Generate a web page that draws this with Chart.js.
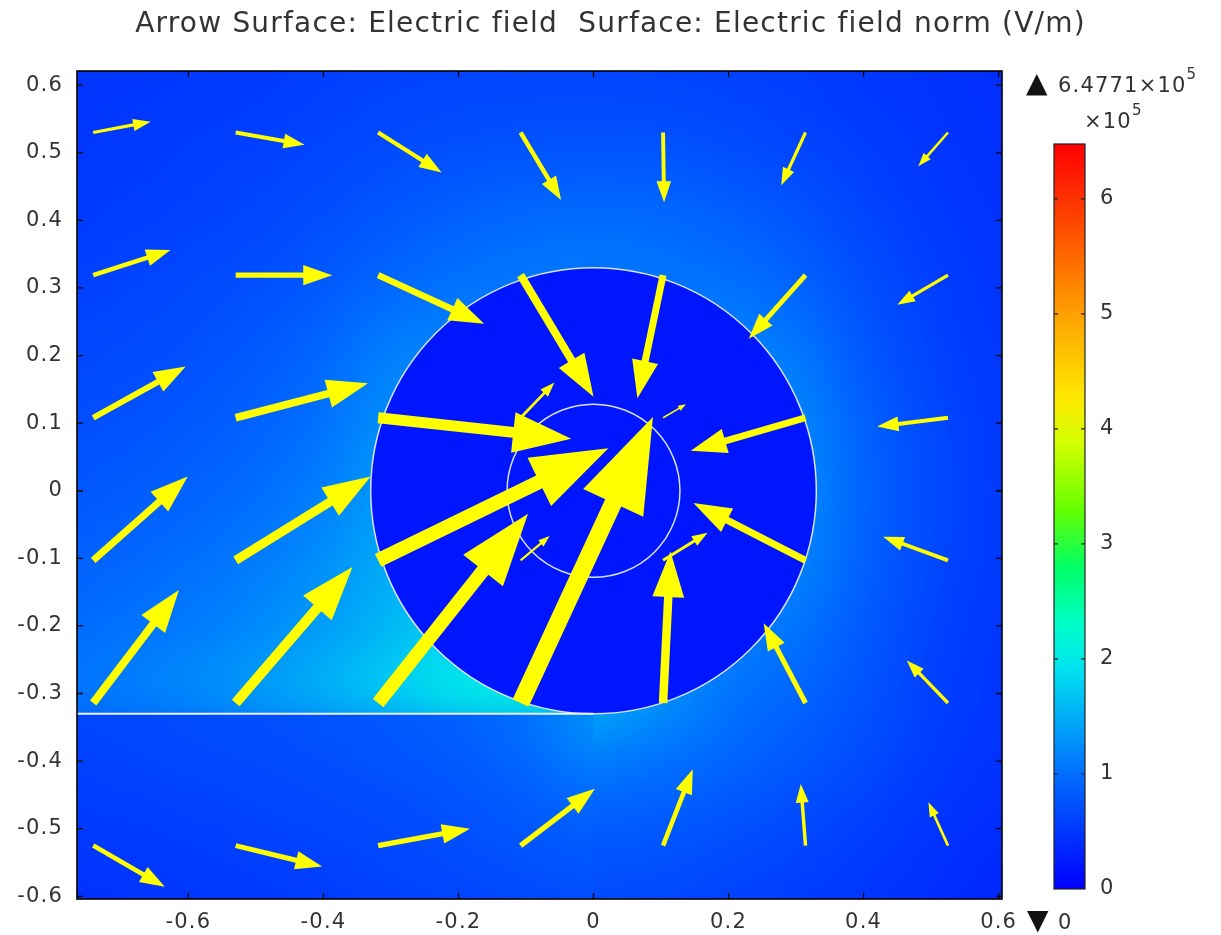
<!DOCTYPE html>
<html><head><meta charset="utf-8">
<script src="https://cdn.jsdelivr.net/npm/chart.js@4.4.1/dist/chart.umd.min.js"></script>
<style>html,body{margin:0;padding:0;background:#fff;}canvas{display:block;}</style>
</head><body>
<canvas id="c" width="1221" height="935"></canvas>
<script>
// ---------------- data ----------------
const titleText = 'Arrow Surface: Electric field  Surface: Electric field norm (V/m)';
const xTickValues = [-0.6, -0.4, -0.2, 0, 0.2, 0.4, 0.6];
const yTickValues = [-0.6, -0.5, -0.4, -0.3, -0.2, -0.1, 0, 0.1, 0.2, 0.3, 0.4, 0.5, 0.6];

// arrow grid (tail positions)
const gridX = [-0.741, -0.530, -0.319, -0.108, 0.103, 0.314, 0.525];
const gridY = [0.530, 0.319, 0.108, -0.103, -0.314, -0.525];
// arrow components (x, y), one row per gridY value
const arrowU = [
  [0.085, 0.102, 0.094, 0.060, 0.0015, -0.036, -0.044],
  [0.1145, 0.143, 0.157, 0.108, -0.038, -0.084, -0.075],
  [0.137, 0.196, 0.286, 0.050, 0.034, -0.170, -0.105],
  [0.140, 0.200, 0.341, 0.043, 0.066, -0.166, -0.096],
  [0.127, 0.173, 0.222, 0.196, 0.011, -0.062, -0.061],
  [0.106, 0.128, 0.136, 0.110, 0.044, -0.007, -0.029]
];
const arrowV = [
  [0.016, -0.018, -0.059, -0.100, -0.103, -0.078, -0.050],
  [0.037, 0.000, -0.072, -0.180, -0.182, -0.094, -0.044],
  [0.076, 0.051, -0.031, 0.052, 0.020, -0.049, -0.013],
  [0.124, 0.124, 0.166, 0.036, 0.041, 0.085, 0.035],
  [0.167, 0.201, 0.280, 0.423, 0.224, 0.118, 0.063],
  [-0.061, -0.031, 0.025, 0.084, 0.113, 0.091, 0.064]
];

// electric field norm (x 1e5 V/m), estimated on a coarse grid
const fieldX = [-0.8, -0.7, -0.6, -0.5, -0.4, -0.3, -0.2, -0.1, 0, 0.1, 0.2, 0.3, 0.4, 0.5, 0.6];
const fieldY = [0.7, 0.6, 0.5, 0.4, 0.3, 0.2, 0.1, 0, -0.1, -0.2, -0.3, -0.4, -0.5, -0.6, -0.7];
const fieldNorm = [
  [0.46, 0.47, 0.49, 0.52, 0.54, 0.56, 0.58, 0.59, 0.59, 0.58, 0.55, 0.51, 0.47, 0.43, 0.40],
  [0.48, 0.49, 0.51, 0.54, 0.57, 0.61, 0.63, 0.64, 0.64, 0.63, 0.60, 0.56, 0.50, 0.46, 0.42],
  [0.50, 0.52, 0.55, 0.58, 0.63, 0.68, 0.73, 0.76, 0.77, 0.76, 0.71, 0.64, 0.56, 0.49, 0.44],
  [0.53, 0.56, 0.59, 0.64, 0.71, 0.80, 0.89, 0.95, 0.98, 0.95, 0.88, 0.77, 0.63, 0.53, 0.46],
  [0.58, 0.61, 0.66, 0.72, 0.82, 0.95, 1.04, 1.08, 1.08, 1.06, 1.02, 0.92, 0.72, 0.57, 0.48],
  [0.63, 0.67, 0.72, 0.81, 0.94, 1.14, 1.18, 1.18, 1.18, 1.18, 1.18, 1.08, 0.80, 0.61, 0.50],
  [0.70, 0.74, 0.80, 0.89, 1.03, 1.26, 1.28, 1.22, 1.22, 1.22, 1.22, 1.18, 0.88, 0.65, 0.52],
  [0.77, 0.82, 0.89, 0.98, 1.13, 1.36, 1.34, 1.22, 1.22, 1.22, 1.22, 1.22, 0.91, 0.67, 0.53],
  [0.86, 0.92, 1.00, 1.10, 1.25, 1.46, 1.44, 1.32, 1.22, 1.22, 1.22, 1.17, 0.88, 0.65, 0.52],
  [0.95, 1.02, 1.10, 1.21, 1.37, 1.58, 1.74, 1.52, 1.30, 1.20, 1.15, 1.05, 0.82, 0.61, 0.50],
  [1.03, 1.10, 1.20, 1.34, 1.50, 1.72, 1.95, 2.02, 1.50, 1.28, 1.05, 0.92, 0.75, 0.58, 0.48],
  [0.70, 0.72, 0.75, 0.80, 0.86, 0.93, 1.00, 1.05, 1.10, 1.02, 0.92, 0.80, 0.67, 0.54, 0.45],
  [0.55, 0.57, 0.60, 0.64, 0.68, 0.72, 0.76, 0.80, 0.83, 0.80, 0.73, 0.65, 0.56, 0.47, 0.40],
  [0.45, 0.47, 0.50, 0.53, 0.56, 0.60, 0.63, 0.66, 0.68, 0.66, 0.61, 0.55, 0.49, 0.42, 0.36],
  [0.40, 0.42, 0.44, 0.47, 0.50, 0.53, 0.56, 0.58, 0.60, 0.58, 0.54, 0.49, 0.44, 0.38, 0.33]
];
// region below the boundary line (x < 0, y < -0.33)
const lowerX = [-0.8, -0.7, -0.6, -0.5, -0.4, -0.3, -0.2, -0.1, 0];
const lowerY = [-0.35, -0.45, -0.55, -0.65];
const lowerNorm = [
  [0.62, 0.64, 0.67, 0.70, 0.74, 0.79, 0.86, 1.00, 1.25],
  [0.55, 0.57, 0.60, 0.63, 0.66, 0.70, 0.76, 0.85, 0.97],
  [0.48, 0.50, 0.53, 0.56, 0.59, 0.63, 0.67, 0.73, 0.77],
  [0.42, 0.44, 0.47, 0.50, 0.53, 0.56, 0.60, 0.64, 0.65]
];
const insideNorm = 0.2;
const outerRadius = 0.33;
const innerRadius = 0.128;
const boundaryY = -0.33;

const colorbarMax = 6.4771;
const colorbarTicks = [0, 1, 2, 3, 4, 5, 6];

// ---------------- colormap (Rainbow) ----------------
const cmapStops = [
  [0.0, [0, 0, 255]], [1.0, [0, 110, 255]], [1.9, [0, 225, 240]], [2.3, [0, 255, 200]],
  [2.8, [0, 255, 100]], [3.3, [100, 255, 0]], [3.9, [215, 255, 0]], [4.3, [255, 230, 0]],
  [5.0, [255, 160, 0]], [5.8, [255, 70, 0]], [6.4771, [255, 0, 0]]
];
function colorFor(v) {
  if (v <= cmapStops[0][0]) return cmapStops[0][1];
  for (let i = 1; i < cmapStops.length; i++) {
    if (v <= cmapStops[i][0]) {
      const [a, ca] = cmapStops[i - 1], [b, cb] = cmapStops[i];
      const t = (v - a) / (b - a);
      return ca.map((c, k) => Math.round(c + (cb[k] - c) * t));
    }
  }
  return cmapStops[cmapStops.length - 1][1];
}
const rgb = c => `rgb(${c[0]},${c[1]},${c[2]})`;

function gridImage(xs, ys, vals) {
  const c = document.createElement('canvas');
  c.width = xs.length; c.height = ys.length;
  const g = c.getContext('2d');
  const img = g.createImageData(xs.length, ys.length);
  for (let j = 0; j < ys.length; j++) for (let i = 0; i < xs.length; i++) {
    const col = colorFor(vals[j][i]); const k = (j * xs.length + i) * 4;
    img.data[k] = col[0]; img.data[k + 1] = col[1]; img.data[k + 2] = col[2]; img.data[k + 3] = 255;
  }
  g.putImageData(img, 0, 0);
  return c;
}
function drawGrid(ctx, sx, sy, xs, ys, vals) {
  const c = gridImage(xs, ys, vals);
  const dx = xs[1] - xs[0], dy = ys[0] - ys[1];
  const L = sx.getPixelForValue(xs[0] - dx / 2), R = sx.getPixelForValue(xs[xs.length - 1] + dx / 2);
  const T = sy.getPixelForValue(ys[0] + dy / 2), B = sy.getPixelForValue(ys[ys.length - 1] - dy / 2);
  ctx.imageSmoothingEnabled = true; ctx.imageSmoothingQuality = 'high';
  ctx.drawImage(c, L, T, R - L, B - T);
}

const fieldPlugin = {
  id: 'field',
  beforeDraw(chart) {
    const ctx = chart.ctx, a = chart.chartArea, sx = chart.scales.x, sy = chart.scales.y;
    ctx.letterSpacing = '1.2px';
    ctx.save();
    ctx.beginPath(); ctx.rect(a.left, a.top, a.right - a.left, a.bottom - a.top); ctx.clip();
    drawGrid(ctx, sx, sy, fieldX, fieldY, fieldNorm);
    ctx.save();
    const by = sy.getPixelForValue(boundaryY), bx = sx.getPixelForValue(0);
    ctx.beginPath(); ctx.rect(a.left, by, bx - a.left, a.bottom - by); ctx.clip();
    drawGrid(ctx, sx, sy, lowerX, lowerY, lowerNorm);
    ctx.restore();
    const cx = sx.getPixelForValue(0), cy = sy.getPixelForValue(0);
    const rx = sx.getPixelForValue(outerRadius) - cx, ry = cy - sy.getPixelForValue(outerRadius);
    ctx.fillStyle = rgb(colorFor(insideNorm));
    ctx.beginPath(); ctx.ellipse(cx, cy, rx, ry, 0, 0, Math.PI * 2); ctx.fill();
    ctx.strokeStyle = 'rgba(225,235,255,0.95)'; ctx.lineWidth = 1.5;
    ctx.stroke();
    const irx = sx.getPixelForValue(innerRadius) - cx, iry = cy - sy.getPixelForValue(innerRadius);
    ctx.beginPath(); ctx.ellipse(cx, cy, irx, iry, 0, 0, Math.PI * 2); ctx.stroke();
    ctx.strokeStyle = 'rgba(235,242,255,1)'; ctx.lineWidth = 2;
    ctx.beginPath(); ctx.moveTo(a.left, by); ctx.lineTo(bx, by); ctx.stroke();
    ctx.restore();
  },
  afterDatasetsDraw(chart) {
    const ctx = chart.ctx, a = chart.chartArea, sx = chart.scales.x, sy = chart.scales.y;
    ctx.save();
    ctx.beginPath(); ctx.rect(a.left, a.top, a.right - a.left, a.bottom - a.top); ctx.clip();
    ctx.fillStyle = '#ffff00';
    for (let j = 0; j < gridY.length; j++) for (let i = 0; i < gridX.length; i++) {
      const x0 = sx.getPixelForValue(gridX[i]), y0 = sy.getPixelForValue(gridY[j]);
      const x1 = sx.getPixelForValue(gridX[i] + arrowU[j][i]), y1 = sy.getPixelForValue(gridY[j] + arrowV[j][i]);
      const dx = x1 - x0, dy = y1 - y0, L = Math.hypot(dx, dy);
      if (L < 0.5) continue;
      const ux = dx / L, uy = dy / L, px = -uy, py = ux;
      const sw = Math.max(0.7, 0.028 * L), hl = 0.3 * L, hw = 0.105 * L;
      const bxp = x1 - ux * hl, byp = y1 - uy * hl;
      ctx.beginPath();
      ctx.moveTo(x0 + px * sw, y0 + py * sw);
      ctx.lineTo(bxp + px * sw, byp + py * sw);
      ctx.lineTo(bxp + px * hw, byp + py * hw);
      ctx.lineTo(x1, y1);
      ctx.lineTo(bxp - px * hw, byp - py * hw);
      ctx.lineTo(bxp - px * sw, byp - py * sw);
      ctx.lineTo(x0 - px * sw, y0 - py * sw);
      ctx.closePath(); ctx.fill();
    }
    ctx.restore();
  },
  afterDraw(chart) {
    const ctx = chart.ctx, a = chart.chartArea, sx = chart.scales.x, sy = chart.scales.y;
    ctx.save();
    ctx.strokeStyle = '#000'; ctx.lineWidth = 1.6;
    ctx.strokeRect(a.left, a.top, a.right - a.left, a.bottom - a.top);
    ctx.lineWidth = 1.3;
    ctx.beginPath();
    sx.ticks.forEach(t => {
      const x = sx.getPixelForValue(t.value);
      ctx.moveTo(x, a.bottom); ctx.lineTo(x, a.bottom - 6);
      ctx.moveTo(x, a.top); ctx.lineTo(x, a.top + 6);
    });
    sy.ticks.forEach(t => {
      const y = sy.getPixelForValue(t.value);
      ctx.moveTo(a.left, y); ctx.lineTo(a.left + 6, y);
      ctx.moveTo(a.right, y); ctx.lineTo(a.right - 6, y);
    });
    ctx.stroke();

    // colour bar
    const cbL = 1054, cbR = 1085, cbT = 144, cbB = 889;
    const cbY = v => cbB - (cbB - cbT) * v / colorbarMax;
    const grad = ctx.createLinearGradient(0, cbB, 0, cbT);
    cmapStops.forEach(s => grad.addColorStop(Math.min(1, s[0] / colorbarMax), rgb(s[1])));
    ctx.fillStyle = grad;
    ctx.fillRect(cbL, cbT, cbR - cbL, cbB - cbT);
    ctx.strokeStyle = '#222'; ctx.lineWidth = 1.2;
    ctx.strokeRect(cbL, cbT, cbR - cbL, cbB - cbT);
    ctx.beginPath();
    colorbarTicks.forEach(t => {
      if (t === 0) return;
      const y = cbY(t);
      ctx.moveTo(cbL, y); ctx.lineTo(cbL + 4, y);
      ctx.moveTo(cbR, y); ctx.lineTo(cbR - 4, y);
    });
    ctx.stroke();
    ctx.fillStyle = '#333'; ctx.textBaseline = 'middle'; ctx.textAlign = 'left';
    ctx.font = '21px "DejaVu Sans"';
    colorbarTicks.forEach(t => ctx.fillText(String(t), 1100, cbY(t)));
    // max / min labels
    ctx.letterSpacing = '0px';
    ctx.font = '28px "DejaVu Sans"';
    ctx.fillStyle = '#111';
    ctx.fillText('\u25B2', 1026, 85);
    ctx.fillText('\u25BC', 1027, 922);
    ctx.fillStyle = '#333';
    ctx.letterSpacing = '1.2px';
    ctx.font = '21px "DejaVu Sans"';
    const maxStr = colorbarMax.toFixed(4) + '\u00D710';
    ctx.fillText(maxStr, 1058, 87);
    const w = ctx.measureText(maxStr).width;
    ctx.fillText('\u00D710', 1084, 123);
    const w2 = ctx.measureText('\u00D710').width;
    ctx.fillText('0', 1058, 924);
    ctx.font = '15px "DejaVu Sans"';
    ctx.fillText('5', 1058 + w, 75);
    ctx.fillText('5', 1084 + w2, 111);
    ctx.restore();
  }
};

const tailPoints = [];
gridY.forEach(y => gridX.forEach(x => tailPoints.push({ x, y })));

Chart.defaults.font.family = '"DejaVu Sans"';
Chart.defaults.color = '#333';

new Chart(document.getElementById('c'), {
  type: 'scatter',
  data: { datasets: [{ label: 'Electric field', data: tailPoints, pointRadius: 0, pointHoverRadius: 0 }] },
  options: {
    responsive: false, devicePixelRatio: 1, animation: false,
    layout: { padding: 0 },
    plugins: {
      legend: { display: false }, tooltip: { enabled: false },
      title: { display: true, text: titleText, color: '#333',
        font: { size: 28, weight: 'normal', family: '"DejaVu Sans"', lineHeight: 1.2 },
        padding: { top: 8, bottom: 29.4 } }
    },
    scales: {
      x: {
        type: 'linear', min: -0.765, max: 0.605,
        grid: { display: false, drawTicks: false }, border: { display: false },
        afterBuildTicks: s => { s.ticks = xTickValues.map(v => ({ value: v })); },
        afterFit: s => { s.height = 36; },
        ticks: { font: { size: 21 }, color: '#333', padding: 11, maxRotation: 0, autoSkip: false,
          callback: v => String(Math.round(v * 10) / 10) }
      },
      y: {
        type: 'linear', min: -0.604, max: 0.621,
        grid: { display: false, drawTicks: false }, border: { display: false },
        afterBuildTicks: s => { s.ticks = yTickValues.map(v => ({ value: v })); },
        afterFit: s => { s.width = 77; },
        ticks: { font: { size: 21 }, color: '#333', padding: 14, autoSkip: false,
          callback: v => String(Math.round(v * 10) / 10) }
      },
      colorbarSpace: {
        type: 'linear', position: 'right', min: 0, max: 1,
        grid: { display: false, drawTicks: false }, border: { display: false },
        ticks: { display: false },
        afterFit: s => { s.width = 219; }
      }
    }
  },
  plugins: [fieldPlugin]
});
</script>
</body></html>
